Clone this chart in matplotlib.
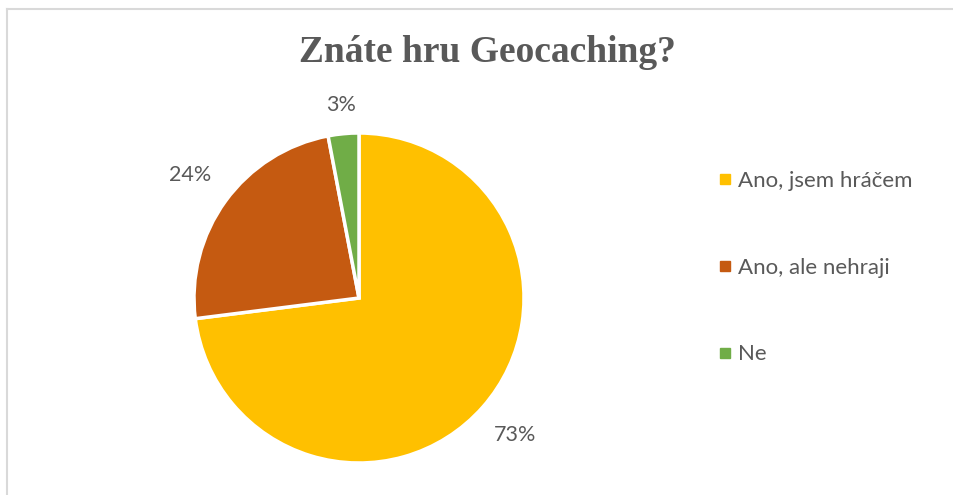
import matplotlib
matplotlib.use("Agg")
import numpy as np
from matplotlib import pyplot as plt
from matplotlib.lines import Line2D

labels = ["Ano, jsem hráčem", "Ano, ale nehraji", "Ne"]
values = [73, 24, 3]
colors = ["#FFC000", "#C55A11", "#70AD47"]
title = "Znáte hru Geocaching?"

text_color = "#595959"

fig = plt.figure(figsize=(9.54, 4.95), dpi=100)

# light frame around the chart area (only top and left show)
fig.add_artist(Line2D([7.5 / 954, 7.5 / 954], [0, 1 - 8.5 / 495], color="#D9D9D9", lw=1.5))
fig.add_artist(Line2D([7.5 / 954, 1], [1 - 8.5 / 495, 1 - 8.5 / 495], color="#D9D9D9", lw=1.5))

# pie centre at (359, 298) px, radius 165 px
half = 1.1 * 165
ax = fig.add_axes([(359 - half) / 954, (495 - 298 - half) / 495, 2 * half / 954, 2 * half / 495])
wedges, texts, autotexts = ax.pie(values, colors=colors, startangle=90, counterclock=False,
                                  autopct="%d%%", pctdistance=1.2,
                                  wedgeprops=dict(edgecolor="white", linewidth=2.5),
                                  textprops=dict(color=text_color, fontsize=15.5, family="Lato"))
# push labels out a bit more where they sit beside the pie (like Excel's best fit)
for w, t in zip(wedges, autotexts):
    mid = np.deg2rad((w.theta1 + w.theta2) / 2)
    r = 1.16 + 0.13 * abs(np.cos(mid))
    t.set_position((r * np.cos(mid), r * np.sin(mid)))
ax.set_xlim(-1.1, 1.1)
ax.set_ylim(-1.1, 1.1)
ax.set_aspect("equal")
ax.axis("off")

fig.text(487 / 954, 1 - 52 / 495, title, ha="center", va="center", fontsize=27,
         fontweight="bold", family="Liberation Serif", color=text_color)

handles = [Line2D([], [], marker="s", linestyle="none", markersize=7,
                  markerfacecolor=c, markeredgecolor=c) for c in colors]
leg = fig.legend(handles, labels, loc="upper left", bbox_to_anchor=(698 / 954, 1 - 151 / 495),
                 frameon=False, handlelength=0.6, handletextpad=0.3, labelspacing=3.0,
                 prop=dict(family="Lato", size=16))
for t in leg.get_texts():
    t.set_color(text_color)

fig.savefig("out.png", dpi=100)
